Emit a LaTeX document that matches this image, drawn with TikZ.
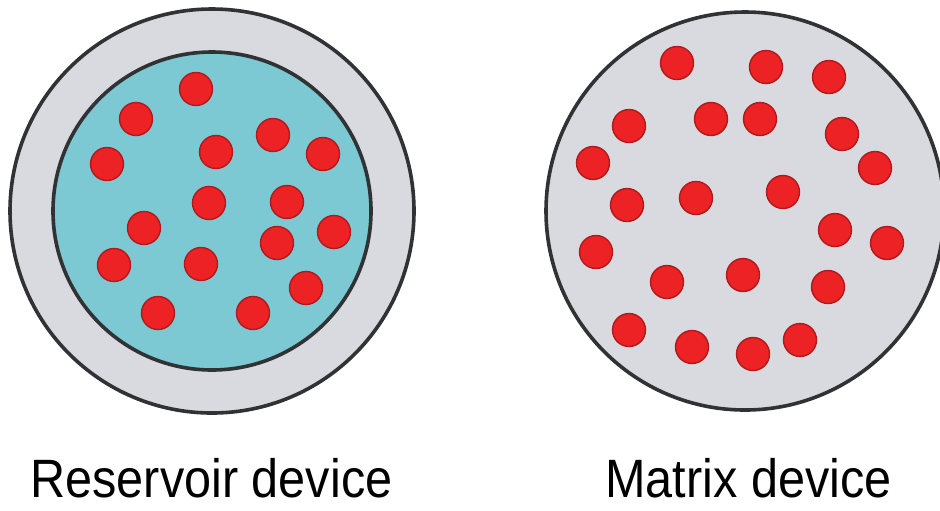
\documentclass[tikz,border=0pt]{standalone}
\usepackage{fontspec}
\setmainfont{Liberation Sans}
\usetikzlibrary{positioning}
\definecolor{shellgray}{RGB}{216,218,223}
\definecolor{coreblue}{RGB}{124,200,211}
\definecolor{drugred}{RGB}{236,34,36}
\definecolor{rimgray}{RGB}{48,50,52}

\begin{document}
\begin{tikzpicture}[x=0.5pt, y=-0.5pt,
    wall/.style={draw=rimgray, line width=1.8pt},
    drug/.style={fill=drugred, draw=drugred!75!black, line width=0.7pt},
    caption/.style={font=\fontsize{27}{30}\selectfont, anchor=base, inner sep=0pt},
]
\useasboundingbox (0,0) rectangle (940,510);
\begin{scope}
\clip (0,0) rectangle (940,510);

% --- Reservoir device: shell + core ---
\filldraw[wall, fill=shellgray] (212,211) circle (202);
\filldraw[wall, fill=coreblue] (212,211) circle (159);

% drug particles in the core
\filldraw[drug] (196,89) circle (16.5);
\filldraw[drug] (136,119) circle (16.5);
\filldraw[drug] (273,135) circle (16.5);
\filldraw[drug] (216,152) circle (16.5);
\filldraw[drug] (323,154) circle (16.5);
\filldraw[drug] (107,164) circle (16.5);
\filldraw[drug] (209,203) circle (16.5);
\filldraw[drug] (287,202) circle (16.5);
\filldraw[drug] (144,228) circle (16.5);
\filldraw[drug] (334,232) circle (16.5);
\filldraw[drug] (277,243) circle (16.5);
\filldraw[drug] (114,265) circle (16.5);
\filldraw[drug] (201,264) circle (16.5);
\filldraw[drug] (306,288) circle (16.5);
\filldraw[drug] (158,313) circle (16.5);
\filldraw[drug] (253,313) circle (16.5);

% --- Matrix device ---
\filldraw[wall, fill=shellgray] (745,211) circle (199);

% drug particles spread in the matrix
\filldraw[drug] (677,63) circle (16.5);
\filldraw[drug] (766,67) circle (16.5);
\filldraw[drug] (829,77) circle (16.5);
\filldraw[drug] (629,126) circle (16.5);
\filldraw[drug] (711,119) circle (16.5);
\filldraw[drug] (760,119) circle (16.5);
\filldraw[drug] (842,134) circle (16.5);
\filldraw[drug] (593,163) circle (16.5);
\filldraw[drug] (875,168) circle (16.5);
\filldraw[drug] (627,205) circle (16.5);
\filldraw[drug] (696,198) circle (16.5);
\filldraw[drug] (783,192) circle (16.5);
\filldraw[drug] (835,230) circle (16.5);
\filldraw[drug] (887,243) circle (16.5);
\filldraw[drug] (596,252) circle (16.5);
\filldraw[drug] (667,282) circle (16.5);
\filldraw[drug] (743,275) circle (16.5);
\filldraw[drug] (828,287) circle (16.5);
\filldraw[drug] (629,330) circle (16.5);
\filldraw[drug] (692,347) circle (16.5);
\filldraw[drug] (753,354) circle (16.5);
\filldraw[drug] (800,340) circle (16.5);
\end{scope}

% Captions
\node[caption] (reservoir) at (211.5,497) {\scalebox{0.9}[1]{Reservoir device}};
\node[caption] (matrix) at (748.5,497) {\scalebox{0.9}[1]{Matrix device}};
\end{tikzpicture}
\end{document}
